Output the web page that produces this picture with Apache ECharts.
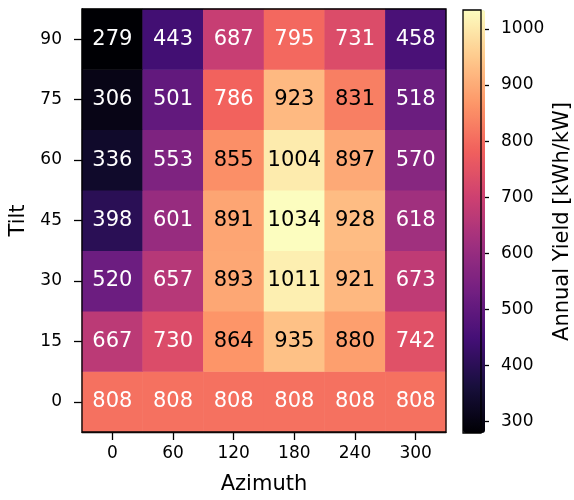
<!DOCTYPE html>
<html><head><meta charset="utf-8">
<script src="https://cdn.jsdelivr.net/npm/echarts@6/dist/echarts.min.js"></script>
<style>html,body{margin:0;padding:0;background:#fff}#c{width:574px;height:500px}</style>
</head><body><div id="c"></div>
<script>
const azimuths = ['0','60','120','180','240','300'];
const tilts = ['0','15','30','45','60','75','90'];
// rows: tilt 0 .. 90, columns: azimuth 0 .. 300
const yield0  = [808, 808, 808, 808, 808, 808];
const yield15 = [667, 730, 864, 935, 880, 742];
const yield30 = [520, 657, 893, 1011, 921, 673];
const yield45 = [398, 601, 891, 1034, 928, 618];
const yield60 = [336, 553, 855, 1004, 897, 570];
const yield75 = [306, 501, 786, 923, 831, 518];
const yield90 = [279, 443, 687, 795, 731, 458];
const rows = [yield0, yield15, yield30, yield45, yield60, yield75, yield90];
const colorbarTicks = [300, 400, 500, 600, 700, 800, 900, 1000];
const vmin = 279, vmax = 1034;
const magma = ['#000004','#180f3d','#440f76','#721f81','#9e2f7f','#cd4071','#f1605d','#fd9668','#feca8d','#fcfdbf'];

const data = [];
rows.forEach((r, yi) => r.forEach((v, xi) => {
  data.push({value: [xi, yi, v], label: {color: v > 820 ? '#000000' : '#ffffff'}});
}));

const font = 'DejaVu Sans';
const chart = echarts.init(document.getElementById('c'), null, {renderer: 'canvas'});
chart.setOption({
  animation: false,
  textStyle: {fontFamily: font},
  grid: [
    {left: 82, top: 9, width: 364, height: 424, show: true, z: 10, backgroundColor: 'transparent', borderColor: '#000', borderWidth: 1.3},
    {left: 463, top: 10, width: 22, height: 423, show: true, z: 10, backgroundColor: 'transparent', borderColor: '#000', borderWidth: 1.3}
  ],
  xAxis: [
    {type: 'category', gridIndex: 0, data: azimuths, name: 'Azimuth', nameLocation: 'middle', nameGap: 42,
     nameTextStyle: {fontSize: 21, color: '#000', fontFamily: font},
     axisLine: {show: true, lineStyle: {color: '#000', width: 1.3}},
     axisTick: {show: true, alignWithLabel: true, length: 8, lineStyle: {color: '#000', width: 1.3}},
     axisLabel: {fontSize: 17, color: '#000', margin: 13, fontFamily: font},
     splitLine: {show: false}},
    {type: 'category', gridIndex: 1, data: ['c'], show: false}
  ],
  yAxis: [
    {type: 'category', gridIndex: 0, data: tilts, name: 'Tilt', nameLocation: 'middle', nameGap: 53,
     nameTextStyle: {fontSize: 21, color: '#000', fontFamily: font},
     axisLine: {show: true, lineStyle: {color: '#000', width: 1.3}},
     axisTick: {show: true, alignWithLabel: true, length: 8, lineStyle: {color: '#000', width: 1.3}},
     axisLabel: {fontSize: 17, color: '#000', margin: 20, fontFamily: font},
     splitLine: {show: false}},
    {type: 'value', gridIndex: 1, min: vmin, max: vmax, position: 'right',
     name: 'Annual Yield [kWh/kW]', nameLocation: 'middle', nameGap: 71, nameRotate: 90,
     nameTextStyle: {fontSize: 21, color: '#000', fontFamily: font},
     axisLine: {show: false},
     axisTick: {show: true, length: 8, customValues: colorbarTicks, lineStyle: {color: '#000', width: 1.3}},
     axisLabel: {fontSize: 17, color: '#000', margin: 20, customValues: colorbarTicks, fontFamily: font, formatter: v => String(v)},
     splitLine: {show: false}}
  ],
  visualMap: {
    type: 'continuous', min: vmin, max: vmax, seriesIndex: 0, orient: 'vertical',
    left: 463, top: 10, itemWidth: 22, itemHeight: 423, padding: 0,
    calculable: false, hoverLink: false, text: null, showLabel: false,
    inRange: {color: magma}
  },
  series: [{
    type: 'heatmap', xAxisIndex: 0, yAxisIndex: 0, data: data,
    label: {show: true, fontSize: 21, fontFamily: font, formatter: p => p.value[2]},
    itemStyle: {borderWidth: 0},
    emphasis: {disabled: true}
  }]
});
</script></body></html>
